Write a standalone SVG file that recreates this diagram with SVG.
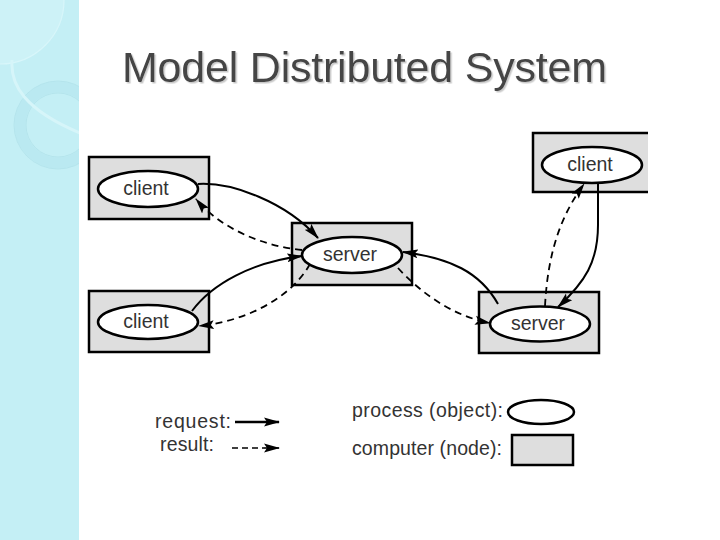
<svg xmlns="http://www.w3.org/2000/svg" width="720" height="540" viewBox="0 0 720 540">
<defs>
  <style>
    .box{fill:#dedede;stroke:#000;stroke-width:2.5}
    .proc{fill:#fff;stroke:#000;stroke-width:2.5}
    .lbl{font-family:"Liberation Sans",Arial,sans-serif;font-size:19.5px;fill:#333;text-anchor:middle}
    .leg{font-family:"Liberation Sans",Arial,sans-serif;font-size:19.5px;fill:#333}
    .req{fill:none;stroke:#000;stroke-width:2;marker-end:url(#ah)}
    .res{fill:none;stroke:#000;stroke-width:1.8;stroke-dasharray:7 5;marker-end:url(#ah)}
  </style>
  <marker id="ah" markerWidth="16" markerHeight="10" refX="15" refY="5" orient="auto" markerUnits="userSpaceOnUse">
    <path d="M0,0.5 L16,5 L0,9.5 L3,5 Z" fill="#000"/>
  </marker>
  <clipPath id="side"><rect x="0" y="0" width="79" height="540"/></clipPath>
  <filter id="sh" x="-5%" y="-20%" width="110%" height="140%">
    <feDropShadow dx="1.5" dy="1.5" stdDeviation="0.6" flood-color="#bbbbbb" flood-opacity="0.8"/>
  </filter>
</defs>
<rect width="720" height="540" fill="#fff"/>
<g id="sidebar" clip-path="url(#side)">
  <rect x="0" y="0" width="79" height="540" fill="#c4eff5"/>
  <path d="M0,0 L64,0 A64,64 0 0 1 0,64 Z" fill="#cdf2f7"/>
  <path d="M64,0 A64,64 0 0 1 0,64" fill="none" stroke="#d8f6fa" stroke-width="1.2"/>
  <circle cx="58" cy="125" r="38" fill="none" stroke="#bae9f1" stroke-width="11"/>
  <circle cx="58" cy="125" r="44" fill="none" stroke="#addfe8" stroke-width="0.7"/>
  <circle cx="58" cy="125" r="32" fill="none" stroke="#addfe8" stroke-width="0.7"/>
  <path d="M12,60 C10,85 25,110 80,133" fill="none" stroke="#d6f5f9" stroke-width="3"/>
</g>
<g id="title">
  <text x="122" y="82" font-family="'Liberation Sans',Arial,sans-serif" font-size="43" fill="#444" textLength="485" filter="url(#sh)">Model Distributed System</text>
</g>
<g id="client1">
  <rect class="box" x="89" y="157" width="120" height="62"/>
  <ellipse class="proc" cx="148" cy="189" rx="50" ry="18"/>
  <text class="lbl" x="146" y="195">client</text>
</g>
<g id="server1">
  <rect class="box" x="292" y="223" width="120" height="62"/>
  <ellipse class="proc" cx="352" cy="255" rx="50" ry="18"/>
  <text class="lbl" x="350" y="261">server</text>
</g>
<g id="client2">
  <rect class="box" x="89" y="291" width="120" height="61"/>
  <ellipse class="proc" cx="148" cy="322" rx="50" ry="17"/>
  <text class="lbl" x="146" y="328">client</text>
</g>
<g id="client3">
  <rect x="533" y="133" width="115" height="59" fill="#dedede"/>
  <path d="M648,133 L533,133 L533,192 L648,192" fill="none" stroke="#000" stroke-width="2.5"/>
  <ellipse class="proc" cx="592" cy="165" rx="50" ry="18"/>
  <text class="lbl" x="590" y="171">client</text>
</g>
<g id="server2">
  <rect class="box" x="479" y="292" width="120" height="61"/>
  <ellipse class="proc" cx="540" cy="324" rx="50" ry="17.5"/>
  <text class="lbl" x="538" y="330">server</text>
</g>
<g id="connectors">
  <path class="req" d="M198,184 C232,182 286,202 318,238"/>
  <path class="res" d="M302,250 C262,246 220,228 196,199"/>
  <path class="req" d="M192,311 C212,284 252,262 302,256"/>
  <path class="res" d="M310,264 C290,300 242,322 199,326"/>
  <path class="req" d="M498,304 C480,272 450,258 403,252"/>
  <path class="res" d="M398,268 C420,292 452,316 490,323"/>
  <path class="req" d="M598,183 L598,225 C598,262 585,282 558,307"/>
  <path class="res" d="M545,306 C548,250 562,214 584,184"/>
</g>
<g id="legend">
  <text class="leg" x="155" y="428" textLength="76">request:</text>
  <path class="req" d="M235,422 L279,422" style="stroke-width:2.6"/>
  <text class="leg" x="160" y="451" textLength="54">result:</text>
  <path d="M232,448 L264,448" fill="none" stroke="#000" stroke-width="1.6" stroke-dasharray="6 4"/>
  <path d="M264,448 L279,448" fill="none" stroke="#000" stroke-width="1.6" marker-end="url(#ah)"/>
  <text class="leg" x="352" y="417" textLength="151">process (object):</text>
  <ellipse class="proc" cx="541" cy="412" rx="33" ry="12"/>
  <text class="leg" x="352" y="455" textLength="150">computer (node):</text>
  <rect class="box" x="512" y="435" width="61" height="30"/>
</g>
</svg>
